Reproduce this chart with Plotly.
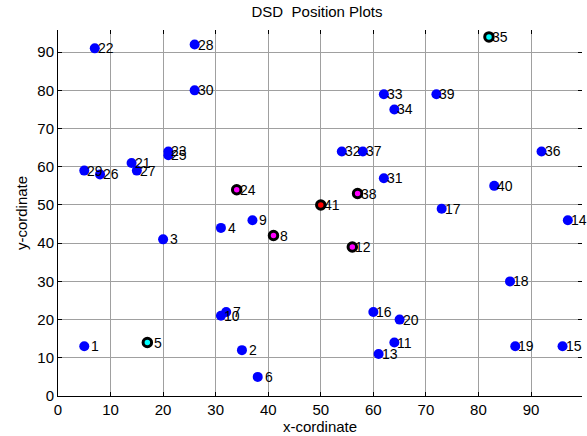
import plotly.graph_objects as go

# Node positions (id, x, y)
node_id = list(range(1, 42))
node_x = [5, 35, 20, 31, 17, 38, 32, 41, 37, 31,
          64, 56, 61, 97, 96, 60, 73, 86, 87, 65,
          14, 7, 21, 34, 21, 8, 15, 26, 5, 26,
          62, 54, 62, 64, 82, 92, 58, 57, 72, 83,
          50]
node_y = [13, 12, 41, 44, 14, 5, 22, 42, 46, 21,
          14, 39, 11, 46, 13, 22, 49, 30, 13, 20,
          61, 91, 64, 54, 63, 58, 59, 92, 59, 80,
          57, 64, 79, 75, 94, 64, 64, 53, 79, 55,
          50]

# Highlighted nodes and their fill colours
cyan_nodes = [5, 35]
magenta_nodes = [24, 8, 38, 12]
red_nodes = [41]

x_ticks = [0, 10, 20, 30, 40, 50, 60, 70, 80, 90]
y_ticks = [0, 10, 20, 30, 40, 50, 60, 70, 80, 90]
x_range = [0, 99.7]
y_range = [0, 95.8]

FONT = "Liberation Sans, Arial, sans-serif"

special = set(cyan_nodes + magenta_nodes + red_nodes)
pos = {i: (x, y) for i, x, y in zip(node_id, node_x, node_y)}

fig = go.Figure()

plain = [i for i in node_id if i not in special]
fig.add_trace(go.Scatter(
    x=[pos[i][0] for i in plain], y=[pos[i][1] for i in plain],
    mode="markers", cliponaxis=False,
    marker=dict(symbol="circle", size=10, color="#0000ff",
                line=dict(width=0)),
    hoverinfo="skip", showlegend=False))

for group, fill in [(cyan_nodes, "#00ffff"), (magenta_nodes, "#ff00ff"),
                    (red_nodes, "#ff0000")]:
    fig.add_trace(go.Scatter(
        x=[pos[i][0] for i in group], y=[pos[i][1] for i in group],
        mode="markers", cliponaxis=False,
        marker=dict(symbol="circle", size=8.5, color=fill,
                    line=dict(width=3, color="#000000")),
        hoverinfo="skip", showlegend=False))

# Node number labels to the right of each point (single digits padded
# by one space width, as with a two-character number format)
for i in node_id:
    fig.add_annotation(
        x=pos[i][0], y=pos[i][1], text=str(i), showarrow=False,
        xanchor="left", yanchor="middle", xshift=1 if i >= 10 else 5,
        font=dict(family=FONT, size=14, color="#000000"))

# Top/right tick marks without a border line
fig.add_trace(go.Scatter(x=[None], y=[None], xaxis="x2", yaxis="y2",
                         showlegend=False, hoverinfo="skip"))

axis_common = dict(
    showgrid=True, gridcolor="#a0a0a0", gridwidth=1,
    zeroline=False, ticks="inside", ticklen=4, tickwidth=1,
    tickcolor="#000000",
    tickfont=dict(family=FONT, size=15, color="#000000"),
)

fig.update_layout(
    width=587, height=436,
    margin=dict(l=58, r=5, t=30, b=40),
    paper_bgcolor="#ffffff", plot_bgcolor="#ffffff",
    title=dict(text="DSD  Position Plots", x=0.54, xanchor="center",
               y=0.972, yanchor="middle",
               font=dict(family=FONT, size=15, color="#000000")),
    xaxis=dict(range=x_range, tickvals=x_ticks, showline=True,
               linecolor="#000000", linewidth=1,
               title=dict(text="x-cordinate", standoff=1,
                          font=dict(family=FONT, size=15, color="#000000")),
               **axis_common),
    yaxis=dict(range=y_range, tickvals=y_ticks, showline=True,
               linecolor="#000000", linewidth=1,
               title=dict(text="y-cordinate", standoff=6,
                          font=dict(family=FONT, size=15, color="#000000")),
               **axis_common),
    xaxis2=dict(range=x_range, tickvals=x_ticks, overlaying="x", side="top",
                showticklabels=False, showgrid=False, showline=False,
                zeroline=False, ticks="inside", ticklen=4,
                tickcolor="#000000"),
    yaxis2=dict(range=y_range, tickvals=y_ticks, overlaying="y", side="right",
                showticklabels=False, showgrid=False, showline=False,
                zeroline=False, ticks="inside", ticklen=4,
                tickcolor="#000000"),
)

fig.write_html("out.html")
